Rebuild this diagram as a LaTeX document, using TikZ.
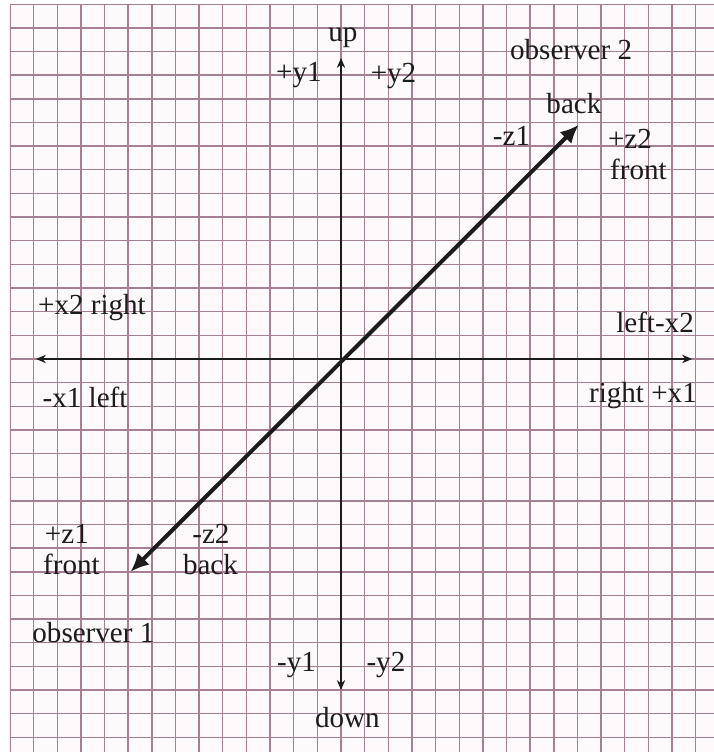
\documentclass[tikz,border=0pt]{standalone}
\usepackage{fontspec}
\setmainfont{Liberation Serif}
\usetikzlibrary{arrows.meta}
\definecolor{gridink}{RGB}{165,128,148}
\definecolor{paper}{RGB}{254,249,251}
\definecolor{ink}{RGB}{28,28,28}
\tikzset{
    graphpaper/.style = {draw=gridink, line width=0.85pt},
    axis/.style = {draw=ink, line width=1.3pt,
        {Stealth[length=6pt,width=5pt]}-{Stealth[length=6pt,width=5pt]}},
    zaxis/.style = {draw=ink, line width=2.4pt,
        {Latex[length=11pt,width=10pt]}-{Latex[length=11pt,width=10pt]}},
    lbl/.style = {anchor=base, inner sep=0pt, text=ink,
        font=\fontsize{17.5}{20}\selectfont}
}

\begin{document}
\begin{tikzpicture}[x=0.5cm, y=0.5cm]
                \useasboundingbox[fill=white] (-14.42,-16.62) rectangle (15.77,15.18);
                \fill[paper] (-14,-16.62) rectangle (15.77,15);
                \begin{scope}
                    \clip (-14,-16.62) rectangle (15.77,15);
                    \draw[graphpaper, step=1] (-14,-17) grid (16,15);
                \end{scope}
                \coordinate (o) at (0,0);
                \coordinate (west) at (-12.9,0);
                \coordinate (east) at (14.85,0);
                \coordinate (north) at (0,12.73);
                \coordinate (south) at (0,-14);
                \coordinate (back) at (10.05,9.9);
                \coordinate (front) at (-8.9,-9);
                \draw[axis] (west) -- (east);
                \draw[axis] (south) -- (north);
                \draw[zaxis] (front) -- (back);
                \node[lbl] (up) at (0.08,13.42) {up};
                \node[lbl] (py1) at (-1.78,11.72) {+y1};
                \node[lbl] (py2) at (2.22,11.71) {+y2};
                \node[lbl] (obs2) at (9.73,12.68) {observer 2};
                \node[lbl] (backtop) at (9.85,10.36) {back};
                \node[lbl] (mz1) at (7.21,9.01) {-z1};
                \node[lbl] (pz2) at (12.22,8.9) {+z2};
                \node[lbl] (fronttop) at (12.58,7.6) {front};
                \node[lbl] (px2) at (-10.53,1.86) {+x2 right};
                \node[lbl] (mx1) at (-10.82,-2.07) {-x1 left};
                \node[lbl] (mx2) at (13.28,1.14) {left-x2};
                \node[lbl] (px1) at (12.77,-1.86) {right +x1};
                \node[lbl] (pz1) at (-11.59,-7.8) {+z1};
                \node[lbl] (frontbot) at (-11.40,-9.1) {front};
                \node[lbl] (mz2) at (-5.50,-7.8) {-z2};
                \node[lbl] (backbot) at (-5.52,-9.1) {back};
                \node[lbl] (obs1) at (-10.47,-12.01) {observer 1};
                \node[lbl] (my1) at (-1.88,-13.23) {-y1};
                \node[lbl] (my2) at (1.90,-13.23) {-y2};
                \node[lbl] (down) at (0.27,-15.6) {down};
\end{tikzpicture}
\end{document}
